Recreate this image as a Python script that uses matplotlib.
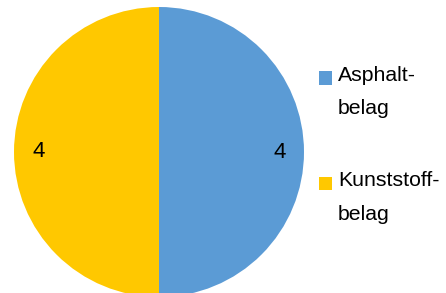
import matplotlib.pyplot as plt
from matplotlib.patches import Rectangle
from matplotlib.legend_handler import HandlerPatch

plt.rcParams['font.family'] = ['Liberation Sans', 'DejaVu Sans']

labels = ['Asphalt-\nbelag', 'Kunststoff-\nbelag']
values = [4, 4]
colors = ['#5B9BD5', '#FFC800']

W, H = 446, 293
fig = plt.figure(figsize=(W / 100, H / 100), dpi=100)

# pie centre ~(159, 152) px, radius ~145 px
cx, cy, r = 159, 152, 145
ax = fig.add_axes([(cx - r) / W, (H - cy - r) / H, 2 * r / W, 2 * r / H])

total = sum(values)
wedges, texts, autotexts = ax.pie(
    values, colors=colors, startangle=90, counterclock=False,
    autopct=lambda p: f'{p * total / 100:.0f}', pctdistance=0.83,
    textprops={'fontsize': 16, 'color': 'black'},
    wedgeprops={'linewidth': 0})
ax.set_xlim(-1, 1)
ax.set_ylim(-1, 1)
ax.set_aspect('equal')
ax.axis('off')


# legend marker next to the first line of a two-line label
def top_square(legend, orig_handle, xdescent, ydescent, width, height, fontsize):
    return Rectangle((-xdescent, -ydescent + 10), width, height)


leg = fig.legend(wedges, labels, loc='upper left',
                 bbox_to_anchor=(319 / W, 1 - 66 / H),
                 frameon=False, fontsize=15.3,
                 handlelength=0.6, handleheight=0.6, handletextpad=0.3,
                 labelspacing=2.5, borderaxespad=0, borderpad=0,
                 handler_map={w: HandlerPatch(patch_func=top_square) for w in wedges})
for t in leg.get_texts():
    t.set_linespacing(1.95)

fig.savefig('out.png', dpi=100)
